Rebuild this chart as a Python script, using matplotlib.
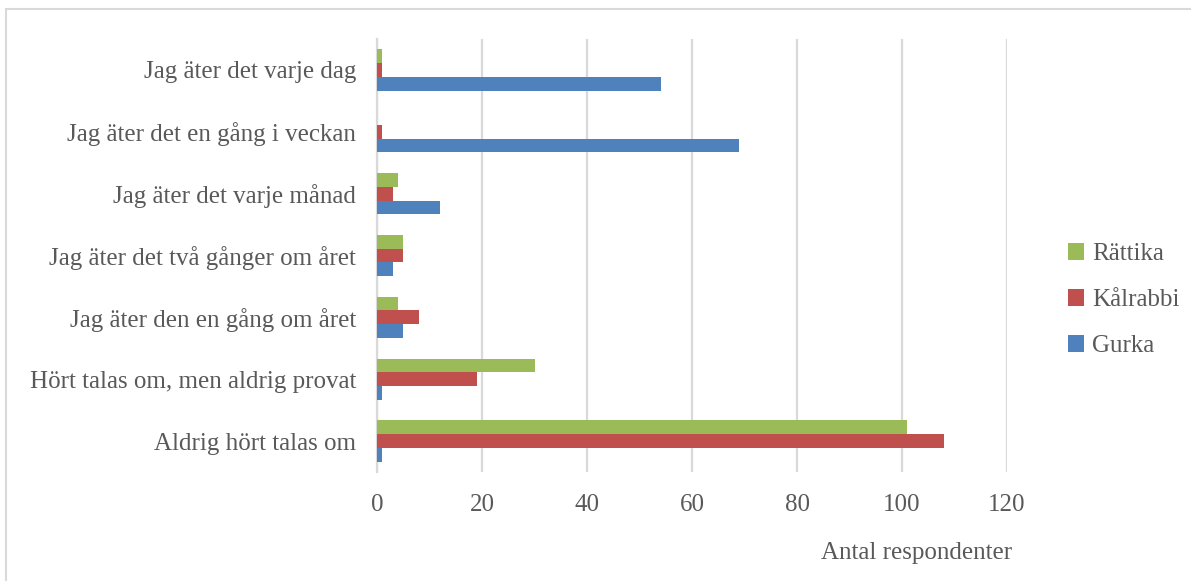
#!/usr/bin/env python3
"""Horizontal grouped bar chart: how often respondents eat gurka, kålrabbi and rättika."""

import matplotlib

matplotlib.use("Agg")
import matplotlib.pyplot as plt
import numpy as np
from matplotlib.patches import Patch, Rectangle

categories = [
    "Jag äter det varje dag",
    "Jag äter det en gång i veckan",
    "Jag äter det varje månad",
    "Jag äter det två gånger om året",
    "Jag äter den en gång om året",
    "Hört talas om, men aldrig provat",
    "Aldrig hört talas om",
]
gurka = [54, 69, 12, 3, 5, 1, 1]
kalrabbi = [1, 1, 3, 5, 8, 19, 108]
rattika = [1, 0, 4, 5, 4, 30, 101]
series_names = ["Gurka", "Kålrabbi", "Rättika"]
series_colours = ["#4f81bd", "#c0504d", "#9bbb59"]
x_ticks = [0, 20, 40, 60, 80, 100, 120]

text_colour = "#595959"
serif = ["Liberation Serif", "DejaVu Serif"]
size = 18

fig = plt.figure(figsize=(11.91, 5.81), dpi=100, facecolor="white")
ax = fig.add_axes([377 / 1191, 1 - 472 / 581, (1007 - 377) / 1191, (472 - 39) / 581])

# categories run top to bottom, so the first one sits at the highest y
y = np.arange(len(categories))[::-1].astype(float)
bar_h = 0.222
offsets = [-bar_h, 0.0, bar_h]
for values, colour, offset in zip([gurka, kalrabbi, rattika], series_colours, offsets):
    ax.barh(y + offset, values, height=bar_h, color=colour, edgecolor="none", zorder=3)

ax.set_xlim(0, 120)
ax.set_ylim(-0.5, len(categories) - 0.5)
ax.set_xticks(x_ticks)
ax.set_xticklabels([str(t) for t in x_ticks], family=serif, fontsize=size, color=text_colour)
ax.set_yticks(y)
ax.set_yticklabels(categories, family=serif, fontsize=size, color=text_colour)
ax.tick_params(axis="both", length=0)
ax.tick_params(axis="y", pad=15)
ax.tick_params(axis="x", pad=16)
ax.grid(axis="x", color="#d9d9d9", linewidth=1.6, zorder=0)
for spine in ("top", "right", "bottom"):
    ax.spines[spine].set_visible(False)
ax.spines["left"].set_color("#d9d9d9")
ax.spines["left"].set_linewidth(1.6)

fig.text(1012 / 1191, 1 - 553 / 581, "Antal respondenter", ha="right", va="center",
         family=serif, fontsize=size, color=text_colour)

handles = [Patch(facecolor=c, edgecolor="none") for c in series_colours[::-1]]
fig.legend(handles, series_names[::-1], loc="center left",
           bbox_to_anchor=(1068 / 1191, 1 - 300 / 581), frameon=False,
           borderpad=0, borderaxespad=0,
           prop={"family": serif, "size": size}, labelcolor=text_colour,
           handlelength=0.65, handleheight=0.65, handletextpad=0.3, labelspacing=0.95)

# light frame around the whole chart, as in the original export
fig.patches.append(Rectangle((6 / 1191, -0.05), 1.2, 1 - 9 / 581 + 0.05,
                             transform=fig.transFigure, fill=False,
                             edgecolor="#d9d9d9", linewidth=1.5))

fig.savefig("out.png", dpi=100, facecolor=fig.get_facecolor())
plt.close(fig)
